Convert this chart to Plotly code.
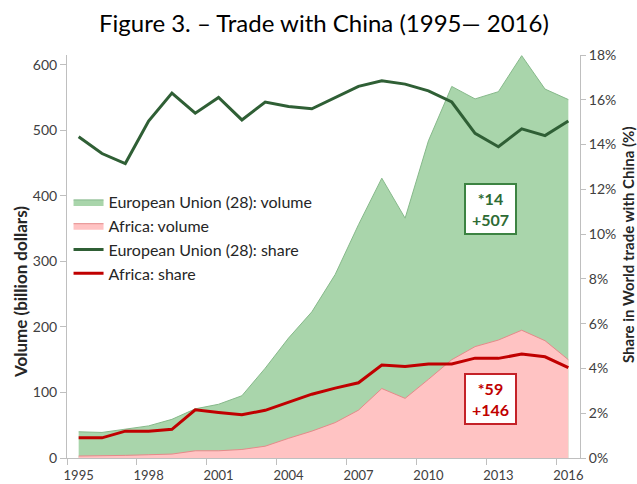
import plotly.graph_objects as go

years = list(range(1995, 2017))
eu_volume = [40, 39, 44, 49, 59, 75, 82, 95, 137, 183, 223, 280, 356, 427, 366, 484, 567, 548, 559, 614, 563, 547]
africa_volume = [3, 3, 4, 5, 6, 11, 11, 13, 18, 30, 41, 54, 73, 106, 91, 120, 150, 170, 180, 195, 179, 150]
eu_share = [14.35, 13.6, 13.15, 15.05, 16.3, 15.4, 16.1, 15.1, 15.9, 15.7, 15.6, 16.1, 16.6, 16.85, 16.7, 16.4, 15.9, 14.5, 13.9, 14.7, 14.4, 15.05]
africa_share = [0.9, 0.9, 1.2, 1.2, 1.28, 2.15, 2.03, 1.93, 2.13, 2.5, 2.85, 3.12, 3.36, 4.15, 4.09, 4.2, 4.2, 4.46, 4.45, 4.64, 4.52, 4.04]
x_labels = [1995, 1998, 2001, 2004, 2007, 2010, 2013, 2016]
left_ticks = [0, 100, 200, 300, 400, 500, 600]
right_ticks = [0, 2, 4, 6, 8, 10, 12, 14, 16, 18]

FONT = "Lato"
PL, PR, PT, PB = 67, 580, 55, 458  # plot area in pixels
PW, PH = PR - PL, PB - PT


def px_x(x):
    return (x - PL) / PW


def px_y(y):
    return (PB - y) / PH


fig = go.Figure()
fig.add_trace(go.Scatter(x=years, y=eu_volume, mode="lines", fill="tozeroy",
                         fillcolor="#a9d5ab", line=dict(color="#86b98a", width=1),
                         name="European Union (28): volume"))
fig.add_trace(go.Scatter(x=years, y=africa_volume, mode="lines", fill="tozeroy",
                         fillcolor="#ffc3c3", line=dict(color="#e58a8a", width=1),
                         name="Africa: volume"))
fig.add_trace(go.Scatter(x=years, y=eu_share, mode="lines", yaxis="y2",
                         line=dict(color="#2f5f35", width=3),
                         name="European Union (28): share"))
fig.add_trace(go.Scatter(x=years, y=africa_share, mode="lines", yaxis="y2",
                         line=dict(color="#c00000", width=3),
                         name="Africa: share"))

axis_font = dict(family=FONT, size=14, color="#404040")
fig.update_layout(
    width=637, height=484,
    margin=dict(l=PL, r=637 - PR, t=PT, b=484 - PB, autoexpand=False),
    paper_bgcolor="white", plot_bgcolor="white",
    font=dict(family=FONT, color="#262626"),
    showlegend=True,
    legend=dict(x=0.003, y=px_y(185), xanchor="left", yanchor="top",
                font=dict(family=FONT, size=16, color="#262626"),
                bgcolor="rgba(0,0,0,0)", tracegroupgap=0, itemwidth=30),
    xaxis=dict(range=[1994.5, 2016.5], tickvals=x_labels, ticktext=[str(v) for v in x_labels],
               ticks="outside", ticklen=5, tickcolor="rgba(0,0,0,0)", automargin=False,
               showline=True, linecolor="#bfbfbf", linewidth=1, showgrid=False, zeroline=False,
               tickfont=dict(family=FONT, size=13, color="#404040"),
               minor=dict(tick0=1994.5, dtick=3, ticks="outside", ticklen=6, tickcolor="#bfbfbf", showgrid=False)),
    yaxis=dict(range=[0, 615], tickvals=left_ticks, ticks="outside", ticklen=6, tickcolor="#bfbfbf",
               showline=True, linecolor="#bfbfbf", showgrid=False, zeroline=False, automargin=False,
               tickfont=axis_font),
    yaxis2=dict(range=[0, 18], overlaying="y", side="right", tickvals=right_ticks,
                ticktext=[f"{v}%" for v in right_ticks], automargin=False,
                ticks="outside", ticklen=5, tickcolor="#bfbfbf",
                showline=True, linecolor="#bfbfbf", showgrid=False, zeroline=False,
                tickfont=axis_font),
)

fig.add_annotation(text="Figure 3. – Trade with China (1995— 2016)", xref="paper", yref="paper",
                   x=0.5, y=px_y(22), showarrow=False, xanchor="center", yanchor="middle",
                   font=dict(family=FONT, size=24, color="#000000"))
fig.add_annotation(text="<b>Volume (billion dollars)</b>", xref="paper", yref="paper",
                   x=px_x(20), y=px_y(292), textangle=-90, showarrow=False,
                   xanchor="center", yanchor="middle", font=dict(family=FONT, size=17, color="#262626"))
fig.add_annotation(text="<b>Share in World trade with China (%)</b>", xref="paper", yref="paper",
                   x=px_x(628), y=px_y(245), textangle=-90, showarrow=False,
                   xanchor="center", yanchor="middle", font=dict(family=FONT, size=15, color="#262626"))

fig.add_annotation(text="<b>*14<br>+507</b>", x=2012.66, y=380, showarrow=False,
                   bgcolor="white", bordercolor="#3c8342", borderwidth=2, borderpad=2,
                   width=45, height=44, font=dict(family=FONT, size=16, color="#2e6b34"))
fig.add_annotation(text="<b>*59<br>+146</b>", x=2012.66, y=90, showarrow=False,
                   bgcolor="white", bordercolor="#c42228", borderwidth=2, borderpad=2,
                   width=45, height=44, font=dict(family=FONT, size=16, color="#c00000"))

fig.write_html("out.html", config={"displayModeBar": False},
               post_script="document.body.style.margin='0';document.body.style.overflow='hidden';")
